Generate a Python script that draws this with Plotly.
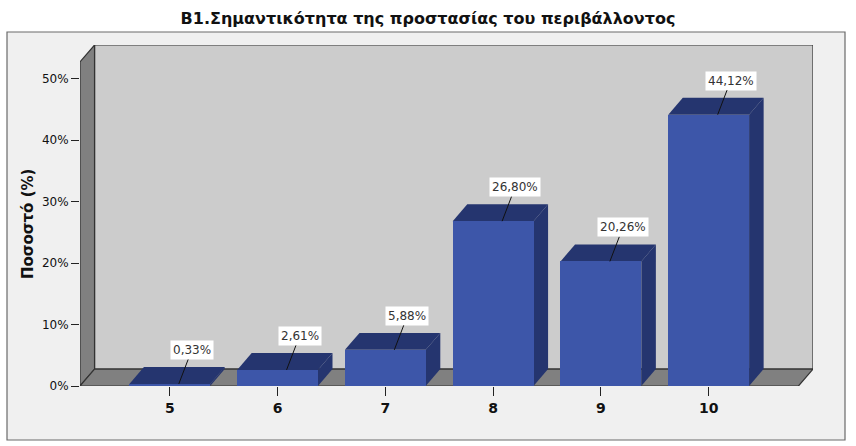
import plotly.graph_objects as go

# data
categories = [5, 6, 7, 8, 9, 10]
percent = [0.33, 2.61, 5.88, 26.80, 20.26, 44.12]
y_ticks = [0, 10, 20, 30, 40, 50]

title = "B1.Σημαντικότητα της προστασίας του περιβάλλοντος"
y_title = "Ποσοστό (%)"

# 3D look: depth offsets in data units
DX = 0.135
DY = 2.75
BAR_W = 0.75
X0, X1 = 4.167, 10.833
Y_TOP = 52.7

FRONT = "#3d56a9"
DARK = "#25356f"
WALL = "#cccccc"
GREY = "#808080"
EDGE = "#333333"

W, H = 856, 446
L, R, T, B = 80, 43, 45, 60


def poly(pts):
    return "M " + " L ".join(f"{x},{y}" for x, y in pts) + " Z"


def px_x(p):
    return (p - L) / (W - L - R)


def px_y(p):
    return (H - B - p) / (H - T - B)


shapes = []
# outer frame
shapes.append(dict(type="rect", xref="paper", yref="paper",
                   x0=px_x(7), x1=px_x(845), y0=px_y(440), y1=px_y(32),
                   fillcolor="#f0f0f0", line=dict(color="#6a6a6a", width=1.2), layer="below"))
# back wall
shapes.append(dict(type="rect", xref="x", yref="y", x0=X0 + DX, x1=X1 + DX, y0=DY, y1=Y_TOP + DY,
                   fillcolor=WALL, line=dict(color=EDGE, width=1.2), layer="below"))
# left wall
shapes.append(dict(type="path", xref="x", yref="y",
                   path=poly([(X0, 0), (X0 + DX, DY), (X0 + DX, Y_TOP + DY), (X0, Y_TOP)]),
                   fillcolor=GREY, line=dict(color=EDGE, width=1.2), layer="below"))
# floor
shapes.append(dict(type="path", xref="x", yref="y",
                   path=poly([(X0, 0), (X1, 0), (X1 + DX, DY), (X0 + DX, DY)]),
                   fillcolor=GREY, line=dict(color=EDGE, width=1.2), layer="below"))

# bar tops and sides
for c, v in zip(categories, percent):
    a, b = c - BAR_W / 2, c + BAR_W / 2
    shapes.append(dict(type="path", xref="x", yref="y",
                       path=poly([(b, 0), (b + DX, DY), (b + DX, v + DY), (b, v)]),
                       fillcolor=DARK, line=dict(width=0), layer="below"))
    shapes.append(dict(type="path", xref="x", yref="y",
                       path=poly([(a, v), (b, v), (b + DX, v + DY), (a + DX, v + DY)]),
                       fillcolor=DARK, line=dict(width=0), layer="below"))

fig = go.Figure()
fig.add_trace(go.Bar(x=categories, y=percent, width=BAR_W,
                     marker=dict(color=FRONT, line=dict(width=0)),
                     hoverinfo="skip"))

annotations = []
for c, v in zip(categories, percent):
    annotations.append(dict(x=c, y=v, xref="x", yref="y",
                            text=f"{v:.2f}".replace(".", ",") + "%",
                            showarrow=True, arrowhead=0, arrowwidth=1, arrowcolor="#111111",
                            ax=13, ay=-34, xshift=9, standoff=0,
                            bgcolor="white", borderpad=2,
                            font=dict(family="DejaVu Sans", size=12, color="#333333")))

annotations.append(dict(x=0, y=px_y(224), xref="paper", yref="paper",
                        text=y_title, textangle=-90, showarrow=False,
                        xanchor="center", yanchor="middle", xshift=-52,
                        font=dict(family="DejaVu Sans", size=15, color="#111111", weight="bold")))

fig.update_layout(
    width=W, height=H,
    margin=dict(l=L, r=R, t=T, b=B),
    paper_bgcolor="white",
    plot_bgcolor="#f0f0f0",
    showlegend=False,
    title=dict(text=title, x=0.5, xref="container", xanchor="center",
               y=1 - 18 / H, yanchor="middle",
               font=dict(family="DejaVu Sans", size=16, color="#111111", weight="bold")),
    shapes=shapes,
    annotations=annotations,
    bargap=0,
)
fig.update_xaxes(range=[X0, X1 + DX], tickvals=categories, ticktext=[str(c) for c in categories],
                 ticks="outside", ticklen=9, tickcolor="#222222", showline=False,
                 showgrid=False, zeroline=False,
                 tickfont=dict(family="DejaVu Sans", size=14, color="#111111", weight="bold"))
fig.update_yaxes(range=[0, Y_TOP + DY], tickvals=y_ticks, ticktext=[f"{t}%" for t in y_ticks],
                 ticks="outside", ticklen=8, tickcolor="#222222", showline=False,
                 showgrid=False, zeroline=False,
                 tickfont=dict(family="DejaVu Sans", size=12, color="#111111"))

# page default body margin would shift the chart by 8px
fig.write_html("out.html", config={"displayModeBar": False},
               post_script="document.body.style.margin='0';")
